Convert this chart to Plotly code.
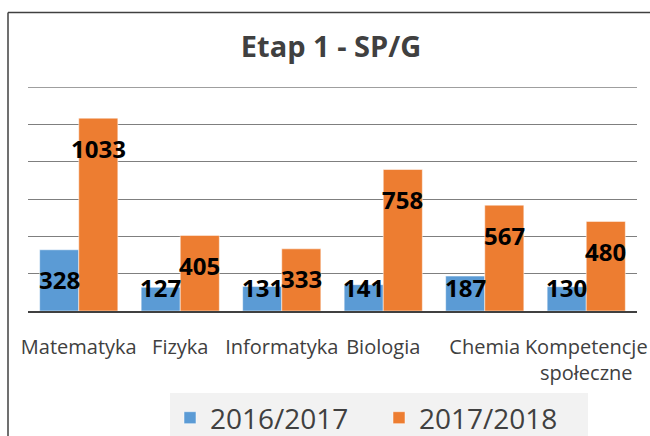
import plotly.graph_objects as go

categories = ["Matematyka", "Fizyka", "Informatyka", "Biologia", "Chemia", "Kompetencje<br>społeczne"]
series_2016 = [328, 127, 131, 141, 187, 130]
series_2017 = [1033, 405, 333, 758, 567, 480]
series_names = ["2016/2017", "2017/2018"]
title_text = "Etap 1 - SP/G"

W, H = 650, 436
ML, MR, MT, MB = 28, 13, 87, 125
YMAX = 1200
BARGAP = 0.23

BLUE = "#5B9BD5"
ORANGE = "#ED7D31"
TXT = "#404040"

fig = go.Figure()
fig.add_trace(go.Bar(x=categories, y=series_2016, name=series_names[0],
                     marker=dict(color=BLUE, line=dict(color="rgba(255,255,255,0.5)", width=1))))
fig.add_trace(go.Bar(x=categories, y=series_2017, name=series_names[1],
                     marker=dict(color=ORANGE, line=dict(color="rgba(255,255,255,0.5)", width=1))))

plot_w = W - ML - MR
plot_h = H - MT - MB
ppu = plot_h / YMAX
cat_w = plot_w / len(categories)
bar_w = cat_w * (1 - BARGAP) / 2

annotations = []
for vals, sign in ((series_2016, -1), (series_2017, 1)):
    for c, v in zip(categories, vals):
        ly = max(v - 30 / ppu, 24 / ppu)
        annotations.append(dict(x=c, y=ly, xref="x", yref="y", text=str(v), showarrow=False,
                                xshift=sign * bar_w / 2, yanchor="middle",
                                font=dict(family="Open Sans", size=24, color="black", weight="bold")))

top_y = (H - MB - 12.5) / plot_h
left_x = (8 - ML) / plot_w
shapes = [
    dict(type="line", xref="paper", yref="paper", x0=left_x, x1=(W + 5 - ML) / plot_w,
         y0=top_y, y1=top_y, line=dict(color=TXT, width=1.5)),
    dict(type="line", xref="paper", yref="paper", x0=left_x, x1=left_x,
         y0=top_y, y1=-(MB + 10) / plot_h, line=dict(color=TXT, width=1.5)),
    dict(type="line", xref="paper", yref="y", x0=0, x1=1, y0=YMAX, y1=YMAX,
         line=dict(color="#7F7F7F", width=1.3)),
]

fig.update_layout(
    width=W, height=H,
    margin=dict(l=ML, r=MR, t=MT, b=MB, autoexpand=False),
    paper_bgcolor="white", plot_bgcolor="white",
    barmode="group", bargap=BARGAP, bargroupgap=0,
    title=dict(text=title_text, x=331 / W, xanchor="center", y=1 - 47 / H, yanchor="middle",
               font=dict(family="Open Sans", size=29, color=TXT, weight="bold")),
    xaxis=dict(showgrid=False, showline=True, linecolor=TXT, linewidth=2, automargin=False,
               tickfont=dict(family="Open Sans", size=20, color=TXT), ticks="", ticklabelstandoff=17),
    yaxis=dict(range=[0, YMAX], dtick=200, showticklabels=False, gridcolor="#7F7F7F", gridwidth=1.3,
               zeroline=False, showline=False, fixedrange=True, automargin=False),
    legend=dict(orientation="h", x=(170 - ML) / plot_w, xanchor="left",
                yref="container", y=1 - 393 / H, yanchor="top",
                bgcolor="#F2F2F2", entrywidth=164,
                font=dict(family="Open Sans", size=28, color=TXT), traceorder="normal"),
    annotations=annotations,
    shapes=shapes,
)

fig.write_html("out.html", config={"displayModeBar": False},
               post_script="document.body.style.margin='0px';")
